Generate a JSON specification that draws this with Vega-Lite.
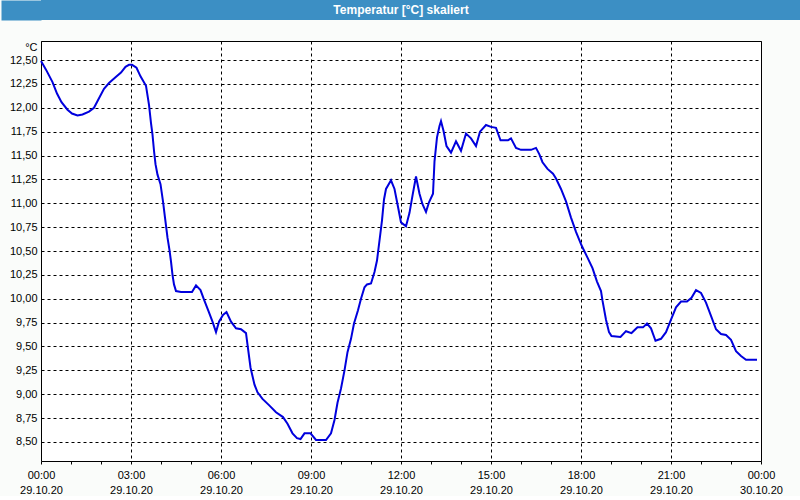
{
  "$schema": "https://vega.github.io/schema/vega-lite/v6.json",
  "background": "#fafcfa",
  "padding": 0,
  "columns": 1,
  "align": "none",
  "spacing": 20,
  "config": {"view": {"stroke": null}},
  "concat": [
    {
      "width": 760,
      "height": 20,
      "view": {"fill": "#3c8fc4", "stroke": null},
      "data": {"values": [{"label": "Temperatur [°C] skaliert"}]},
      "mark": {"type": "text", "font": "Liberation Sans", "fontWeight": "bold", "fontSize": 12, "color": "white", "dx": -20},
      "encoding": {
        "text": {"field": "label", "type": "nominal"},
        "y": {
          "datum": 0.5, "type": "quantitative",
          "scale": {"domain": [0, 1]},
          "axis": {"title": null, "labels": false, "ticks": false, "grid": false, "domain": true, "domainColor": "#3c8fc4", "domainWidth": 40, "offset": 20}
        }
      }
    },
    {
      "width": 720,
      "height": 420,
      "view": {"fill": "white", "stroke": "black"},
      "data": {"values": [
        {"t":"2020-10-29T00:00:00Z","v":12.49},
        {"t":"2020-10-29T00:10:00Z","v":12.40},
        {"t":"2020-10-29T00:23:00Z","v":12.27},
        {"t":"2020-10-29T00:32:00Z","v":12.15},
        {"t":"2020-10-29T00:41:00Z","v":12.06},
        {"t":"2020-10-29T00:53:00Z","v":11.98},
        {"t":"2020-10-29T01:02:00Z","v":11.94},
        {"t":"2020-10-29T01:13:00Z","v":11.92},
        {"t":"2020-10-29T01:23:00Z","v":11.93},
        {"t":"2020-10-29T01:36:00Z","v":11.96},
        {"t":"2020-10-29T01:46:00Z","v":12.00},
        {"t":"2020-10-29T01:56:00Z","v":12.10},
        {"t":"2020-10-29T02:06:00Z","v":12.20},
        {"t":"2020-10-29T02:16:00Z","v":12.26},
        {"t":"2020-10-29T02:29:00Z","v":12.32},
        {"t":"2020-10-29T02:40:00Z","v":12.37},
        {"t":"2020-10-29T02:49:00Z","v":12.43},
        {"t":"2020-10-29T02:56:00Z","v":12.45},
        {"t":"2020-10-29T03:02:00Z","v":12.45},
        {"t":"2020-10-29T03:11:00Z","v":12.42},
        {"t":"2020-10-29T03:19:00Z","v":12.33},
        {"t":"2020-10-29T03:30:00Z","v":12.23},
        {"t":"2020-10-29T03:36:00Z","v":12.03},
        {"t":"2020-10-29T03:40:00Z","v":11.84},
        {"t":"2020-10-29T03:43:00Z","v":11.72},
        {"t":"2020-10-29T03:46:00Z","v":11.55},
        {"t":"2020-10-29T03:49:00Z","v":11.41},
        {"t":"2020-10-29T03:53:00Z","v":11.30},
        {"t":"2020-10-29T03:59:00Z","v":11.20},
        {"t":"2020-10-29T04:04:00Z","v":11.02},
        {"t":"2020-10-29T04:08:00Z","v":10.85},
        {"t":"2020-10-29T04:13:00Z","v":10.64},
        {"t":"2020-10-29T04:17:00Z","v":10.51},
        {"t":"2020-10-29T04:20:00Z","v":10.39},
        {"t":"2020-10-29T04:23:00Z","v":10.25},
        {"t":"2020-10-29T04:26:00Z","v":10.15},
        {"t":"2020-10-29T04:30:00Z","v":10.08},
        {"t":"2020-10-29T04:40:00Z","v":10.07},
        {"t":"2020-10-29T05:02:00Z","v":10.07},
        {"t":"2020-10-29T05:10:00Z","v":10.14},
        {"t":"2020-10-29T05:19:00Z","v":10.09},
        {"t":"2020-10-29T05:26:00Z","v":9.99},
        {"t":"2020-10-29T05:35:00Z","v":9.87},
        {"t":"2020-10-29T05:43:00Z","v":9.76},
        {"t":"2020-10-29T05:50:00Z","v":9.65},
        {"t":"2020-10-29T05:56:00Z","v":9.76},
        {"t":"2020-10-29T06:04:00Z","v":9.83},
        {"t":"2020-10-29T06:11:00Z","v":9.86},
        {"t":"2020-10-29T06:20:00Z","v":9.76},
        {"t":"2020-10-29T06:30:00Z","v":9.69},
        {"t":"2020-10-29T06:40:00Z","v":9.68},
        {"t":"2020-10-29T06:50:00Z","v":9.64},
        {"t":"2020-10-29T06:53:00Z","v":9.52},
        {"t":"2020-10-29T06:59:00Z","v":9.28},
        {"t":"2020-10-29T07:07:00Z","v":9.10},
        {"t":"2020-10-29T07:13:00Z","v":9.02},
        {"t":"2020-10-29T07:23:00Z","v":8.95},
        {"t":"2020-10-29T07:37:00Z","v":8.88},
        {"t":"2020-10-29T07:50:00Z","v":8.81},
        {"t":"2020-10-29T08:04:00Z","v":8.76},
        {"t":"2020-10-29T08:13:00Z","v":8.69},
        {"t":"2020-10-29T08:23:00Z","v":8.59},
        {"t":"2020-10-29T08:32:00Z","v":8.54},
        {"t":"2020-10-29T08:39:00Z","v":8.53},
        {"t":"2020-10-29T08:47:00Z","v":8.59},
        {"t":"2020-10-29T08:59:00Z","v":8.59},
        {"t":"2020-10-29T09:10:00Z","v":8.52},
        {"t":"2020-10-29T09:30:00Z","v":8.52},
        {"t":"2020-10-29T09:40:00Z","v":8.59},
        {"t":"2020-10-29T09:47:00Z","v":8.73},
        {"t":"2020-10-29T09:53:00Z","v":8.91},
        {"t":"2020-10-29T10:00:00Z","v":9.06},
        {"t":"2020-10-29T10:07:00Z","v":9.25},
        {"t":"2020-10-29T10:13:00Z","v":9.44},
        {"t":"2020-10-29T10:20:00Z","v":9.58},
        {"t":"2020-10-29T10:26:00Z","v":9.74},
        {"t":"2020-10-29T10:34:00Z","v":9.88},
        {"t":"2020-10-29T10:40:00Z","v":10.00},
        {"t":"2020-10-29T10:47:00Z","v":10.12},
        {"t":"2020-10-29T10:52:00Z","v":10.15},
        {"t":"2020-10-29T11:00:00Z","v":10.16},
        {"t":"2020-10-29T11:07:00Z","v":10.28},
        {"t":"2020-10-29T11:12:00Z","v":10.40},
        {"t":"2020-10-29T11:17:00Z","v":10.61},
        {"t":"2020-10-29T11:22:00Z","v":10.82},
        {"t":"2020-10-29T11:26:00Z","v":11.04},
        {"t":"2020-10-29T11:30:00Z","v":11.15},
        {"t":"2020-10-29T11:40:00Z","v":11.24},
        {"t":"2020-10-29T11:47:00Z","v":11.15},
        {"t":"2020-10-29T11:53:00Z","v":10.99},
        {"t":"2020-10-29T12:00:00Z","v":10.80},
        {"t":"2020-10-29T12:10:00Z","v":10.76},
        {"t":"2020-10-29T12:17:00Z","v":10.90},
        {"t":"2020-10-29T12:23:00Z","v":11.08},
        {"t":"2020-10-29T12:30:00Z","v":11.28},
        {"t":"2020-10-29T12:37:00Z","v":11.10},
        {"t":"2020-10-29T12:43:00Z","v":10.99},
        {"t":"2020-10-29T12:50:00Z","v":10.91},
        {"t":"2020-10-29T12:56:00Z","v":11.01},
        {"t":"2020-10-29T13:04:00Z","v":11.10},
        {"t":"2020-10-29T13:07:00Z","v":11.44},
        {"t":"2020-10-29T13:12:00Z","v":11.69},
        {"t":"2020-10-29T13:17:00Z","v":11.81},
        {"t":"2020-10-29T13:20:00Z","v":11.86},
        {"t":"2020-10-29T13:25:00Z","v":11.76},
        {"t":"2020-10-29T13:31:00Z","v":11.60},
        {"t":"2020-10-29T13:40:00Z","v":11.53},
        {"t":"2020-10-29T13:50:00Z","v":11.65},
        {"t":"2020-10-29T14:00:00Z","v":11.55},
        {"t":"2020-10-29T14:10:00Z","v":11.73},
        {"t":"2020-10-29T14:20:00Z","v":11.68},
        {"t":"2020-10-29T14:30:00Z","v":11.60},
        {"t":"2020-10-29T14:38:00Z","v":11.75},
        {"t":"2020-10-29T14:50:00Z","v":11.82},
        {"t":"2020-10-29T15:00:00Z","v":11.80},
        {"t":"2020-10-29T15:10:00Z","v":11.79},
        {"t":"2020-10-29T15:19:00Z","v":11.66},
        {"t":"2020-10-29T15:34:00Z","v":11.66},
        {"t":"2020-10-29T15:40:00Z","v":11.68},
        {"t":"2020-10-29T15:50:00Z","v":11.58},
        {"t":"2020-10-29T16:00:00Z","v":11.56},
        {"t":"2020-10-29T16:20:00Z","v":11.56},
        {"t":"2020-10-29T16:30:00Z","v":11.58},
        {"t":"2020-10-29T16:37:00Z","v":11.51},
        {"t":"2020-10-29T16:43:00Z","v":11.43},
        {"t":"2020-10-29T16:53:00Z","v":11.36},
        {"t":"2020-10-29T17:04:00Z","v":11.31},
        {"t":"2020-10-29T17:10:00Z","v":11.26},
        {"t":"2020-10-29T17:20:00Z","v":11.15},
        {"t":"2020-10-29T17:30:00Z","v":11.02},
        {"t":"2020-10-29T17:40:00Z","v":10.85},
        {"t":"2020-10-29T17:50:00Z","v":10.70},
        {"t":"2020-10-29T18:01:00Z","v":10.56},
        {"t":"2020-10-29T18:13:00Z","v":10.43},
        {"t":"2020-10-29T18:23:00Z","v":10.32},
        {"t":"2020-10-29T18:32:00Z","v":10.18},
        {"t":"2020-10-29T18:40:00Z","v":10.08},
        {"t":"2020-10-29T18:43:00Z","v":9.98},
        {"t":"2020-10-29T18:50:00Z","v":9.78},
        {"t":"2020-10-29T18:56:00Z","v":9.65},
        {"t":"2020-10-29T19:01:00Z","v":9.61},
        {"t":"2020-10-29T19:19:00Z","v":9.60},
        {"t":"2020-10-29T19:30:00Z","v":9.66},
        {"t":"2020-10-29T19:41:00Z","v":9.64},
        {"t":"2020-10-29T19:53:00Z","v":9.70},
        {"t":"2020-10-29T20:04:00Z","v":9.70},
        {"t":"2020-10-29T20:12:00Z","v":9.74},
        {"t":"2020-10-29T20:20:00Z","v":9.69},
        {"t":"2020-10-29T20:29:00Z","v":9.56},
        {"t":"2020-10-29T20:40:00Z","v":9.58},
        {"t":"2020-10-29T20:50:00Z","v":9.65},
        {"t":"2020-10-29T21:00:00Z","v":9.78},
        {"t":"2020-10-29T21:10:00Z","v":9.91},
        {"t":"2020-10-29T21:20:00Z","v":9.97},
        {"t":"2020-10-29T21:32:00Z","v":9.97},
        {"t":"2020-10-29T21:41:00Z","v":10.01},
        {"t":"2020-10-29T21:50:00Z","v":10.09},
        {"t":"2020-10-29T22:00:00Z","v":10.06},
        {"t":"2020-10-29T22:10:00Z","v":9.96},
        {"t":"2020-10-29T22:20:00Z","v":9.82},
        {"t":"2020-10-29T22:30:00Z","v":9.68},
        {"t":"2020-10-29T22:40:00Z","v":9.63},
        {"t":"2020-10-29T22:50:00Z","v":9.62},
        {"t":"2020-10-29T23:00:00Z","v":9.57},
        {"t":"2020-10-29T23:10:00Z","v":9.45},
        {"t":"2020-10-29T23:20:00Z","v":9.40},
        {"t":"2020-10-29T23:30:00Z","v":9.36},
        {"t":"2020-10-29T23:52:00Z","v":9.36}
      ]},
      "resolve": {"axis": {"x": "independent"}},
      "encoding": {
        "y": {
          "field": "v", "type": "quantitative",
          "scale": {"domain": [8.3, 12.7], "nice": false, "zero": false},
          "axis": {
            "title": "°C",
            "titleAngle": 0,
            "titleX": -4,
            "titleY": 6,
            "titleAlign": "right",
            "titleBaseline": "middle",
            "titleFont": "Liberation Sans",
            "titleFontSize": 11,
            "titleFontWeight": "normal",
            "titleColor": "black",
            "domain": false,
            "ticks": false,
            "values": [8.5, 8.75, 9, 9.25, 9.5, 9.75, 10, 10.25, 10.5, 10.75, 11, 11.25, 11.5, 11.75, 12, 12.25, 12.5],
            "labelExpr": "replace(format(datum.value, '.2f'), '.', ',')",
            "labelFont": "Liberation Sans",
            "labelFontSize": 11,
            "labelColor": "black",
            "labelPadding": 4,
            "minExtent": 40,
            "grid": true,
            "gridColor": "black",
            "gridDash": [3, 3]
          }
        }
      },
      "layer": [
        {
          "mark": {"type": "line", "opacity": 0},
          "encoding": {
            "x": {
              "field": "t", "type": "temporal",
              "scale": {"type": "utc", "domain": [1603929600000, 1604016000000], "nice": false},
              "axis": {
                "orient": "bottom",
                "title": null,
                "domain": false,
                "ticks": false,
                "labels": false,
                "values": [1603929600000, 1603940400000, 1603951200000, 1603962000000, 1603972800000, 1603983600000, 1603994400000, 1604005200000, 1604016000000],
                "grid": true,
                "gridColor": "black",
                "gridDash": [3, 3]
              }
            }
          }
        },
        {
          "mark": {"type": "line", "color": "#0000dd", "strokeWidth": 2},
          "encoding": {
            "x": {
              "field": "t", "type": "temporal",
              "scale": {"type": "utc", "domain": [1603929600000, 1604016000000], "nice": false},
              "axis": {
                "orient": "bottom",
                "title": null,
                "domain": false,
                "grid": false,
                "values": [1603929600000, 1603933200000, 1603936800000, 1603940400000, 1603944000000, 1603947600000, 1603951200000, 1603954800000, 1603958400000, 1603962000000, 1603965600000, 1603969200000, 1603972800000, 1603976400000, 1603980000000, 1603983600000, 1603987200000, 1603990800000, 1603994400000, 1603998000000, 1604001600000, 1604005200000, 1604008800000, 1604012400000, 1604016000000],
                "tickSize": 3,
                "tickColor": "black",
                "labelFont": "Liberation Sans",
                "labelFontSize": 11,
                "labelColor": "black",
                "labelPadding": 5,
                "labelLineHeight": 15,
                "labelFlush": false,
                "labelOverlap": false,
                "labelExpr": "utchours(datum.value) % 3 == 0 ? [utcFormat(datum.value, '%H:%M'), utcFormat(datum.value, '%d.%m.%y')] : ''"
              }
            }
          }
        }
      ]
    }
  ]
}
